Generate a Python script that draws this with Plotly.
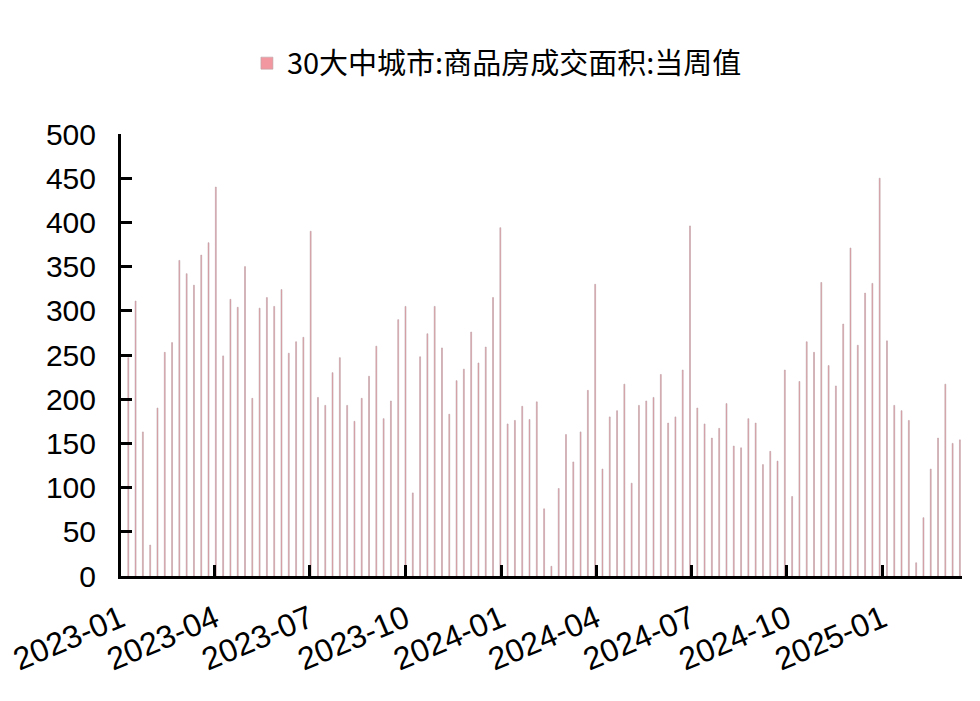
import pandas as pd
import plotly.graph_objects as go

series_name = "30大中城市:商品房成交面积:当周值"

# weekly values (万平方米), one per week starting 2023-01-08
first_week = "2023-01-08"
values_2023 = [
    247, 311, 163, 35, 190, 253, 264, 357, 342, 329, 363, 377, 440,
    249, 313, 304, 350, 201, 303, 315, 305, 324, 252, 265, 270, 390,
    202, 193, 230, 247, 193, 175, 201, 226, 260, 178, 198, 290, 305,
    94, 248, 274, 305, 258, 183, 221, 234, 276, 241, 259, 315, 394,
]
values_2024 = [
    172, 176, 192, 177, 197, 76, 11, 99, 160, 129, 163, 210, 330,
    121, 180, 187, 217, 105, 193, 198, 202, 228, 173, 180, 233, 396,
    190, 172, 156, 167, 195, 147, 145, 178, 173, 126, 141, 130, 233,
    90, 220, 265, 253, 332, 238, 215, 285, 371, 261, 320, 331, 450,
]
values_2025 = [266, 193, 187, 176, 15, 66, 121, 156, 217, 150, 154]

values = values_2023 + values_2024 + values_2025
weeks = pd.date_range(first_week, periods=len(values), freq="7D")

y_ticks = list(range(0, 501, 50))

font_main = "Arial, Liberation Sans, sans-serif"

fig = go.Figure()
fig.add_trace(go.Bar(
    x=weeks,
    y=values,
    name=series_name,
    width=86400000 * 0.9,
    marker=dict(color="#F2979F", line=dict(width=0.6, color="#B9A3A7")),
))

# page body adds an 8px offset, margins compensate for it
fig.update_layout(
    width=980,
    height=701,
    margin=dict(l=113, r=26, t=126, b=133),
    paper_bgcolor="white",
    plot_bgcolor="white",
    showlegend=True,
    legend=dict(
        orientation="h",
        x=0.447, xanchor="center",
        y=1.16, yanchor="middle",
        font=dict(family="Noto Sans CJK SC, " + font_main, size=29, color="black"),
        itemwidth=30,
    ),
)

fig.update_xaxes(
    type="date",
    range=["2023-01-01", "2025-03-18"],
    tick0="2023-01-01",
    dtick="M3",
    tickformat="%Y-%m",
    tickangle=-23,
    ticks="inside",
    ticklen=11,
    tickwidth=3,
    tickcolor="black",
    showline=True,
    linecolor="black",
    linewidth=3,
    showgrid=False,
    zeroline=False,
    automargin=False,
    ticklabeloverflow="allow",
    ticklabelstandoff=9,
    tickfont=dict(family=font_main, size=32, color="black"),
)

fig.update_yaxes(
    range=[0, 500],
    tickvals=y_ticks,
    ticks="inside",
    ticklen=11,
    tickwidth=3,
    tickcolor="black",
    showline=True,
    linecolor="black",
    linewidth=3,
    showgrid=False,
    zeroline=False,
    automargin=False,
    ticklabelstandoff=16,
    tickfont=dict(family=font_main, size=30, color="black"),
)

fig.write_html("out.html")
